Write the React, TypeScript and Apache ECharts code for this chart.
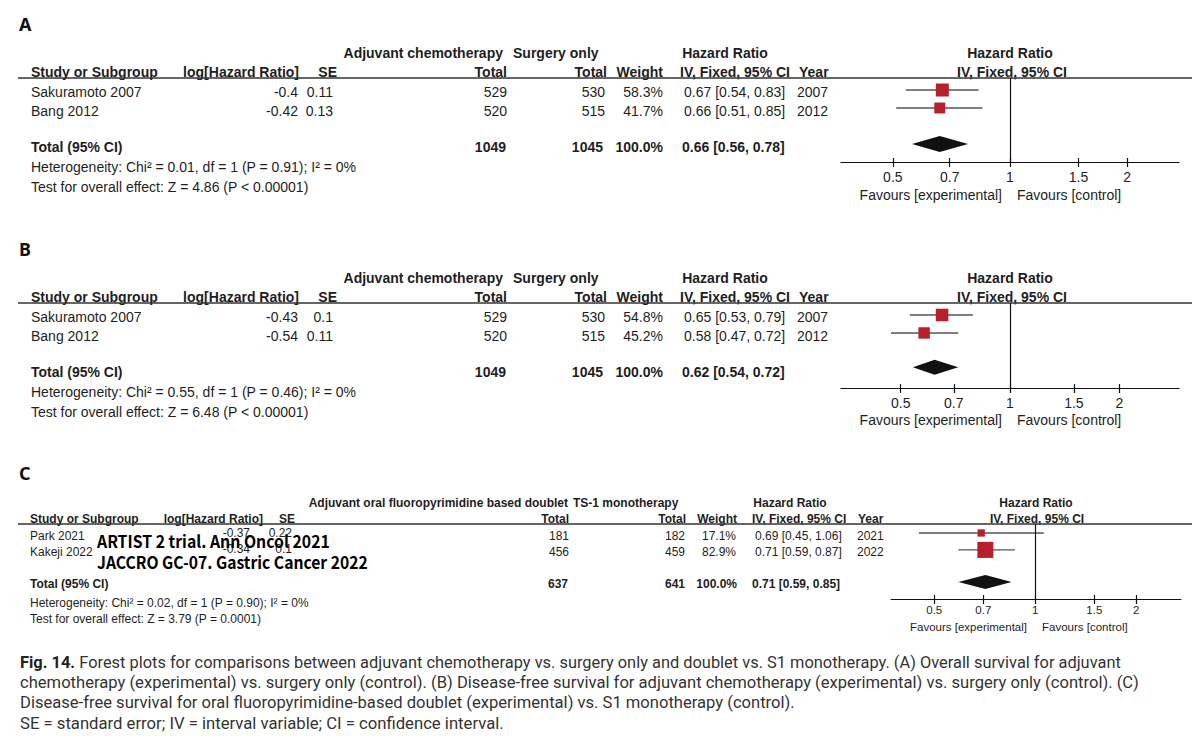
import React, { useEffect, useRef } from "react";
import * as echarts from "echarts";

// ---------- DATA ----------
const hrTicks = [0.5, 0.7, 1, 1.5, 2];

// Panel A – overall survival
const studiesA = ["Sakuramoto 2007", "Bang 2012"];
const logHrA = ["-0.4", "-0.42"];
const seA = ["0.11", "0.13"];
const expTotalsA = [529, 520];
const ctrlTotalsA = [530, 515];
const weightsA = [58.3, 41.7];
const hrA = [0.67, 0.66];
const ciLowA = [0.54, 0.51];
const ciHighA = [0.83, 0.85];
const yearsA = [2007, 2012];
const pooledA = [0.66, 0.56, 0.78];
const sumTotalsA = [1049, 1045];
const hetA = ["0.01", "1", "0.91", "0"];
const testA = ["4.86", "P < 0.00001"];

// Panel B – disease-free survival
const studiesB = ["Sakuramoto 2007", "Bang 2012"];
const logHrB = ["-0.43", "-0.54"];
const seB = ["0.1", "0.11"];
const expTotalsB = [529, 520];
const ctrlTotalsB = [530, 515];
const weightsB = [54.8, 45.2];
const hrB = [0.65, 0.58];
const ciLowB = [0.53, 0.47];
const ciHighB = [0.79, 0.72];
const yearsB = [2007, 2012];
const pooledB = [0.62, 0.54, 0.72];
const sumTotalsB = [1049, 1045];
const hetB = ["0.55", "1", "0.46", "0"];
const testB = ["6.48", "P < 0.00001"];

// Panel C – doublet vs TS-1
const studiesC = ["Park 2021", "Kakeji 2022"];
const logHrC = ["-0.37", "-0.34"];
const seC = ["0.22", "0.1"];
const expTotalsC = [181, 456];
const ctrlTotalsC = [182, 459];
const weightsC = [17.1, 82.9];
const hrC = [0.69, 0.71];
const ciLowC = [0.45, 0.59];
const ciHighC = [1.06, 0.87];
const yearsC = [2021, 2022];
const pooledC = [0.71, 0.59, 0.85];
const sumTotalsC = [637, 641];
const hetC = ["0.02", "1", "0.90", "0"];
const testC = ["3.79", "P = 0.0001"];
const overlayC = ["ARTIST 2 trial. Ann Oncol 2021", "JACCRO GC-07. Gastric Cancer 2022"];

const groupHeadAB = ["Adjuvant chemotherapy", "Surgery only"];
const groupHeadC = ["Adjuvant oral fluoropyrimidine based doublet", "TS-1 monotherapy"];
const colHeads = ["Study or Subgroup", "log[Hazard Ratio]", "SE", "Total", "Total", "Weight", "IV, Fixed, 95% CI", "Year"];
const favours = ["Favours [experimental]", "Favours [control]"];

const captionLines = [
  " Forest plots for comparisons between adjuvant chemotherapy vs. surgery only and doublet vs. S1 monotherapy. (A) Overall survival for adjuvant",
  "chemotherapy (experimental) vs. surgery only (control). (B) Disease-free survival for adjuvant chemotherapy (experimental) vs. surgery only (control). (C)",
  "Disease-free survival for oral fluoropyrimidine-based doublet (experimental) vs. S1 monotherapy (control).",
  "SE = standard error; IV = interval variable; CI = confidence interval.",
];
const captionLabel = "Fig. 14.";

// ---------- HELPERS ----------
const FONT = '"Liberation Sans", Arial, Helvetica, sans-serif';
const INK = "#1e1e1e";
const RED = "#b5202a";

let measureCtx: CanvasRenderingContext2D | null = null;
function measure(text: string, font: string) {
  if (!measureCtx) measureCtx = document.createElement("canvas").getContext("2d");
  measureCtx!.font = font;
  return measureCtx!.measureText(text).width;
}

function txt(text: string, x: number, y: number, size: number, align = "left", bold = false, color = INK, family = FONT) {
  return {
    type: "text",
    x,
    y,
    silent: true,
    style: {
      text,
      fill: color,
      fontSize: size,
      fontFamily: family,
      fontWeight: bold ? "bold" : "normal",
      textAlign: align,
      textVerticalAlign: "middle",
    },
  };
}

function hline(x1: number, x2: number, y: number, w = 1.4, color = "#333") {
  return { type: "line", silent: true, shape: { x1, y1: y, x2, y2: y }, style: { stroke: color, lineWidth: w } };
}

const ciStr = (h: number, l: number, u: number) => `${h.toFixed(2)} [${l.toFixed(2)}, ${u.toFixed(2)}]`;

type Panel = {
  letter: string;
  studies: string[]; logHr: string[]; se: string[]; exp: number[]; ctrl: number[]; weights: number[];
  hr: number[]; lo: number[]; hi: number[]; years: number[]; pooled: number[]; sums: number[];
  het: string[]; test: string[]; groupHead: string[];
};

type Layout = {
  fs: number; hetFs: number; favFs: number; letterY: number; h1Y: number; h2Y: number; ruleY: number;
  rowY: number[]; numDy: number; totalY: number; hetY: number; testY: number; favY: number;
  h1X: [number, string][]; h2X: [number, string][];
  cols: { name: number; logHr: number; se: number; exp: number; ctrl: number; weight: number; ci: number; year: number };
  tcols: { exp: number; ctrl: number; weight: number; ci: number };
  plotCenter: number;
};

function tableGraphics(p: Panel, L: Layout) {
  const g: any[] = [];
  const fs = L.fs;
  g.push(txt(p.letter, 19, L.letterY, 18, "left", true, "#111", '"Noto Sans", "Liberation Sans", sans-serif'));
  const h1Texts = [p.groupHead[0], p.groupHead[1], "Hazard Ratio", "Hazard Ratio"];
  h1Texts.forEach((t, i) => g.push(txt(t, L.h1X[i][0], L.h1Y, fs, L.h1X[i][1], true)));
  const h2Texts = [...colHeads, "IV, Fixed, 95% CI"];
  h2Texts.forEach((t, i) => g.push(txt(t, L.h2X[i][0], L.h2Y, fs, L.h2X[i][1], true)));
  g.push(hline(18, 1192, L.ruleY));
  p.studies.forEach((s, i) => {
    const y = L.rowY[i];
    g.push(txt(s, L.cols.name, y, fs, "left"));
    g.push(txt(p.logHr[i], L.cols.logHr, y + L.numDy, fs, "right"));
    g.push(txt(p.se[i], L.cols.se, y + L.numDy, fs, "right"));
    g.push(txt(String(p.exp[i]), L.cols.exp, y, fs, "right"));
    g.push(txt(String(p.ctrl[i]), L.cols.ctrl, y, fs, "right"));
    g.push(txt(`${p.weights[i].toFixed(1)}%`, L.cols.weight, y, fs, "right"));
    g.push(txt(ciStr(p.hr[i], p.lo[i], p.hi[i]), L.cols.ci, y, fs, "left"));
    g.push(txt(String(p.years[i]), L.cols.year, y, fs, "left"));
  });
  const wsum = p.weights.reduce((a, b) => a + b, 0);
  g.push(txt("Total (95% CI)", L.cols.name, L.totalY, fs, "left", true));
  g.push(txt(String(p.sums[0]), L.tcols.exp, L.totalY, fs, "right", true));
  g.push(txt(String(p.sums[1]), L.tcols.ctrl, L.totalY, fs, "right", true));
  g.push(txt(`${wsum.toFixed(1)}%`, L.tcols.weight, L.totalY, fs, "right", true));
  g.push(txt(ciStr(p.pooled[0], p.pooled[1], p.pooled[2]), L.tcols.ci, L.totalY, fs, "left", true));
  g.push(txt(`Heterogeneity: Chi² = ${p.het[0]}, df = ${p.het[1]} (P = ${p.het[2]}); I² = ${p.het[3]}%`, L.cols.name, L.hetY, L.hetFs, "left"));
  g.push(txt(`Test for overall effect: Z = ${p.test[0]} (${p.test[1]})`, L.cols.name, L.testY, L.hetFs, "left"));
  g.push(txt(favours[0], L.plotCenter - 8, L.favY, L.favFs, "right"));
  g.push(txt(favours[1], L.plotCenter + 7, L.favY, L.favFs, "left"));
  return g;
}

const panelA: Panel = { letter: "A", studies: studiesA, logHr: logHrA, se: seA, exp: expTotalsA, ctrl: ctrlTotalsA, weights: weightsA, hr: hrA, lo: ciLowA, hi: ciHighA, years: yearsA, pooled: pooledA, sums: sumTotalsA, het: hetA, test: testA, groupHead: groupHeadAB };
const panelB: Panel = { letter: "B", studies: studiesB, logHr: logHrB, se: seB, exp: expTotalsB, ctrl: ctrlTotalsB, weights: weightsB, hr: hrB, lo: ciLowB, hi: ciHighB, years: yearsB, pooled: pooledB, sums: sumTotalsB, het: hetB, test: testB, groupHead: groupHeadAB };
const panelC: Panel = { letter: "C", studies: studiesC, logHr: logHrC, se: seC, exp: expTotalsC, ctrl: ctrlTotalsC, weights: weightsC, hr: hrC, lo: ciLowC, hi: ciHighC, years: yearsC, pooled: pooledC, sums: sumTotalsC, het: hetC, test: testC, groupHead: groupHeadC };

function layoutAB(dy: number): Layout {
  return {
    fs: 14, hetFs: 14, favFs: 14, letterY: 24 + dy, h1Y: 53 + dy, h2Y: 72 + dy, ruleY: 78 + dy,
    rowY: [92 + dy, 111 + dy], numDy: 0, totalY: 147 + dy, hetY: 167 + dy, testY: 187 + dy, favY: 195 + dy,
    h1X: [[503, "right"], [513, "left"], [725, "center"], [1010, "center"]],
    h2X: [[31, "left"], [299, "right"], [337, "right"], [507, "right"], [607, "right"], [663, "right"], [680, "left"], [799, "left"], [1012, "center"]],
    cols: { name: 31, logHr: 298, se: 333, exp: 507, ctrl: 605, weight: 663, ci: 684, year: 797 },
    tcols: { exp: 506, ctrl: 603, weight: 663, ci: 682 },
    plotCenter: 1010,
  };
}
const layoutC: Layout = {
  fs: 12, hetFs: 12, favFs: 11.5, letterY: 473, h1Y: 503, h2Y: 519, ruleY: 524,
  rowY: [536, 552], numDy: -3, totalY: 584, hetY: 603, testY: 619, favY: 627,
  h1X: [[568, "right"], [573, "left"], [790, "center"], [1036, "center"]],
  h2X: [[30, "left"], [263, "right"], [295, "right"], [569, "right"], [686, "right"], [737, "right"], [752, "left"], [858, "left"], [1037, "center"]],
  cols: { name: 30, logHr: 250, se: 292, exp: 569, ctrl: 685, weight: 736, ci: 755, year: 857 },
  tcols: { exp: 568, ctrl: 685, weight: 737, ci: 752 },
  plotCenter: 1035,
};

const lnTicks = hrTicks.map((t) => Math.log(t));
const tickFmt = (v: number) => {
  const t = hrTicks.find((h) => Math.abs(Math.log(h) - v) < 1e-6);
  return t === undefined ? "" : String(t);
};

function buildOption() {
  const panels = [panelA, panelB, panelC];
  const grids = [
    { left: 841, top: 78, width: 338, height: 84 },
    { left: 841, top: 303, width: 338, height: 85 },
    { left: 891, top: 524, width: 290, height: 75 },
  ];
  const xRanges = [[-1, 1], [-1.072, 1.072], [-0.99, 1.0]];
  const yRanges = [[-0.667, 4], [-0.667, 4.06], [-0.53, 3.9]];
  const totalRows = [3, 2.9, 2.9];
  const sizeK = [1.7, 1.7, 1.76];
  const diamondH = [16, 15, 14];
  const labelFs = [14, 14, 11.5];
  const labelMargin = [8, 8, 5];

  const xAxis: any[] = [];
  const yAxis: any[] = [];
  const series: any[] = [];
  panels.forEach((p, i) => {
    xAxis.push({
      gridIndex: i, type: "value", min: xRanges[i][0], max: xRanges[i][1], position: "bottom",
      axisLine: { show: true, onZero: false, lineStyle: { color: "#111", width: 1.2 } },
      axisTick: { show: true, customValues: lnTicks, length: 5, lineStyle: { color: "#111", width: 1.2 } },
      axisLabel: { customValues: lnTicks, formatter: tickFmt, color: INK, fontSize: labelFs[i], fontFamily: FONT, margin: labelMargin[i] },
      splitLine: { show: false },
    });
    xAxis.push({
      gridIndex: i, type: "value", min: xRanges[i][0], max: xRanges[i][1], position: "bottom",
      axisLine: { show: false, onZero: false },
      axisTick: { show: true, inside: true, customValues: lnTicks, length: 4, lineStyle: { color: "#111", width: 1.2 } },
      axisLabel: { show: false },
      splitLine: { show: false },
    });
    yAxis.push({ gridIndex: i, type: "value", inverse: true, min: yRanges[i][0], max: yRanges[i][1], show: false });

    const k = sizeK[i];
    series.push({
      type: "custom", xAxisIndex: 2 * i, yAxisIndex: i, clip: false, silent: true, z: 3,
      encode: { x: [0, 1, 2], y: 3 },
      data: p.studies.map((_, j) => [Math.log(p.lo[j]), Math.log(p.hi[j]), Math.log(p.hr[j]), j, k * Math.sqrt(p.weights[j])]),
      renderItem: (_params: any, api: any) => {
        const a = api.coord([api.value(0), api.value(3)]);
        const b = api.coord([api.value(1), api.value(3)]);
        const c = api.coord([api.value(2), api.value(3)]);
        const s = api.value(4);
        return {
          type: "group",
          children: [
            { type: "line", shape: { x1: a[0], y1: a[1], x2: b[0], y2: b[1] }, style: { stroke: "#555", lineWidth: 1.4 } },
            { type: "rect", shape: { x: c[0] - s / 2, y: c[1] - s / 2, width: s, height: s }, style: { fill: RED } },
          ],
        };
      },
    });
    const dh = diamondH[i];
    series.push({
      type: "custom", xAxisIndex: 2 * i, yAxisIndex: i, clip: false, silent: true, z: 3,
      encode: { x: [0, 1, 2], y: 3 },
      data: [[Math.log(p.pooled[1]), Math.log(p.pooled[2]), Math.log(p.pooled[0]), totalRows[i]]],
      renderItem: (_params: any, api: any) => {
        const a = api.coord([api.value(0), api.value(3)]);
        const b = api.coord([api.value(1), api.value(3)]);
        const c = api.coord([api.value(2), api.value(3)]);
        return {
          type: "polygon",
          shape: { points: [[a[0], a[1]], [c[0], c[1] - dh / 2], [b[0], b[1]], [c[0], c[1] + dh / 2]] },
          style: { fill: "#111" },
        };
      },
      markLine: {
        silent: true, symbol: ["none", "none"], animation: false,
        label: { show: false },
        lineStyle: { color: "#111", width: 1.2, type: "solid" },
        data: [{ xAxis: 0 }],
      },
    });
  });

  const graphics: any[] = [
    ...tableGraphics(panelA, layoutAB(0)),
    ...tableGraphics(panelB, layoutAB(225)),
    ...tableGraphics(panelC, layoutC),
  ];

  // overlay annotations in panel C
  const ovFont = '"Noto Sans CJK KR", "Noto Sans", sans-serif';
  const ovTargets = [[97, 541, 233], [97, 562, 271]];
  overlayC.forEach((t, i) => {
    const w = measure(t, `bold 17px ${ovFont}`);
    const el: any = txt(t, ovTargets[i][0], ovTargets[i][1], 17, "left", true, "#000", ovFont);
    el.scaleX = ovTargets[i][2] / w;
    el.z = 100;
    graphics.push(el);
  });

  // caption
  const capFam = 'Roboto, "Noto Sans", sans-serif';
  const capFs = 16.5;
  const capY = [662, 683, 703, 724];
  const capW = [1102, 1120, 775, 484];
  captionLines.forEach((line, i) => {
    let w = measure(line, `${capFs}px ${capFam}`);
    let text = line;
    const rich: any = { b: { fontWeight: "bold", fontSize: capFs, fontFamily: capFam, fill: "#222" } };
    if (i === 0) {
      w += measure(captionLabel, `bold ${capFs}px ${capFam}`);
      text = `{b|${captionLabel}}${line}`;
    }
    graphics.push({
      type: "text", x: 20, y: capY[i], silent: true, scaleX: capW[i] / w,
      style: { text, rich, fill: "#333", fontSize: capFs, fontFamily: capFam, textAlign: "left", textVerticalAlign: "middle" },
    });
  });

  return {
    animation: false,
    backgroundColor: "#ffffff",
    grid: grids,
    xAxis,
    yAxis,
    series,
    graphic: graphics,
  };
}

export default function App() {
  const ref = useRef<HTMLDivElement>(null);
  useEffect(() => {
    document.body.style.margin = "0";
    const chart = echarts.init(ref.current!, undefined, { renderer: "svg" });
    chart.setOption(buildOption() as any);
    return () => chart.dispose();
  }, []);
  return <div ref={ref} style={{ width: 1203, height: 736, background: "#fff" }} />;
}
